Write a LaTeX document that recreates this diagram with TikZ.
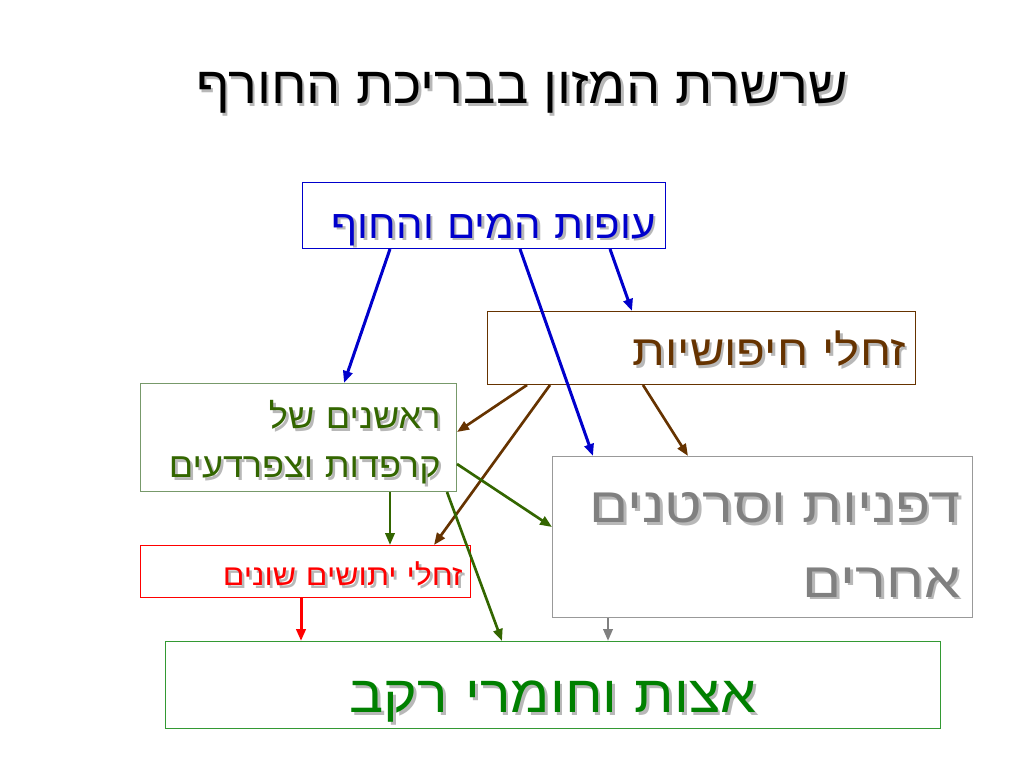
\documentclass[tikz,border=0pt]{standalone}
\usepackage{fontspec}
\usepackage{tikz}
\usetikzlibrary{arrows.meta}
\newfontfamily\hebfont[Script=Hebrew]{Liberation Sans}
\TeXXeTstate=1
\definecolor{birdblue}{HTML}{0000CC}
\definecolor{beetlebrown}{HTML}{663300}
\definecolor{froggreen}{HTML}{336600}
\definecolor{frogline}{HTML}{77996A}
\definecolor{mosqred}{HTML}{FF0000}
\definecolor{plankgray}{HTML}{808080}
\definecolor{plankline}{HTML}{999999}
\definecolor{algaegreen}{HTML}{008000}
\definecolor{algaeline}{HTML}{339933}
\newcommand{\shadowheb}[1]{\leavevmode\rlap{\hspace{2pt}\raisebox{-2pt}{\color{black!28}\beginR #1\endR}}\beginR #1\endR}
% stretched Hebrew face at a given size
\newcommand{\hebsize}[3]{\hebfont\addfontfeatures{FakeStretch=#1}\fontsize{#2}{#3}\selectfont}

\begin{document}
\begin{tikzpicture}[
    x=0.75pt, y=-0.75pt,
    foodbox/.style = {rectangle, draw, anchor=north west, inner ysep=0pt, align=right, line width=0.75pt},
    link/.style = {->, line width=2pt},
    >={Triangle[length=9pt,width=7pt]}]
\useasboundingbox (0,0) rectangle (1024,768);

\node[font=\hebsize{1.04}{39}{44}] (title) at (522,94) {\shadowheb{שרשרת המזון בבריכת החורף}};

\node[foodbox, draw=birdblue, text=birdblue, text width=257.25pt, inner xsep=7.5pt, minimum height=49.5pt,
      text height=34pt, text depth=0pt, font=\hebsize{1.05}{30}{35}] (birds) at (302,182) {\shadowheb{עופות המים והחוף}};
\node[foodbox, draw=beetlebrown, text=beetlebrown, text width=306pt, inner xsep=7.5pt, minimum height=54.75pt,
      text height=26.25pt, text depth=0pt, font=\hebsize{1.11}{32}{36}] (beetles) at (487,311) {\shadowheb{זחלי חיפושיות}};
\node[foodbox, draw=frogline, text=froggreen, text width=213pt, inner xsep=12pt, minimum height=81pt,
      text height=23.5pt, text depth=37pt, font=\hebsize{1.04}{26}{37}] (tadpoles) at (140,383) {\shadowheb{ראשנים של}\\\shadowheb{קרפדות וצפרדעים}};
\node[foodbox, draw=mosqred, text=mosqred, text width=235.5pt, inner xsep=6pt, minimum height=39pt,
      text height=21pt, text depth=0pt, font=\hebsize{1.09}{22}{25}] (mosquito) at (140,545) {\shadowheb{זחלי יתושים שונים}};
\node[foodbox, draw=plankline, text=plankgray, text width=297pt, inner xsep=9pt, minimum height=120.75pt,
      text height=34.25pt, text depth=56pt, font=\hebsize{1.17}{37}{56}] (plankton) at (552,456) {\shadowheb{דפניות וסרטנים}\\\shadowheb{אחרים}};
\node[foodbox, draw=algaeline, text=algaegreen, align=center, text width=581.25pt, inner xsep=0pt, minimum height=65.25pt,
      text height=41pt, text depth=0pt, font=\hebsize{1.1}{39}{44}] (algae) at (165,641) {\shadowheb{אצות וחומרי רקב}};

%connectors
\draw[link, birdblue, line width=2.25pt] ([xshift=66pt]birds.south west) -- ([xshift=153pt]tadpoles.north west);
\draw[link, birdblue, line width=2.25pt] ([xshift=163.5pt]birds.south west) -- ([xshift=30.75pt]plankton.north west);
\draw[link, birdblue, line width=2.25pt] ([xshift=231pt]birds.south west) -- ([xshift=108.75pt]beetles.north west);
\draw[link, beetlebrown] ([xshift=30pt]beetles.south west) -- ([yshift=-36.75pt]tadpoles.north east);
\draw[link, beetlebrown] ([xshift=47.25pt]beetles.south west) -- ([xshift=220.5pt]mosquito.north west);
\draw[link, beetlebrown] ([xshift=117pt]beetles.south west) -- ([xshift=102pt]plankton.north west);
\draw[link, froggreen] ([yshift=-60.75pt]tadpoles.north east) -- ([yshift=-53.25pt]plankton.north west);
\draw[link, froggreen] ([xshift=187.5pt]tadpoles.south west) -- ([xshift=187.5pt]mosquito.north west);
\draw[link, froggreen] ([xshift=230.25pt]tadpoles.south west) -- ([xshift=252.75pt]algae.north west);
\draw[link, mosqred, line width=2.25pt] ([xshift=120.75pt]mosquito.south west) -- ([xshift=102pt]algae.north west);
\draw[link, plankgray] ([xshift=42pt]plankton.south west) -- ([xshift=332.25pt]algae.north west);
\end{tikzpicture}
\end{document}
